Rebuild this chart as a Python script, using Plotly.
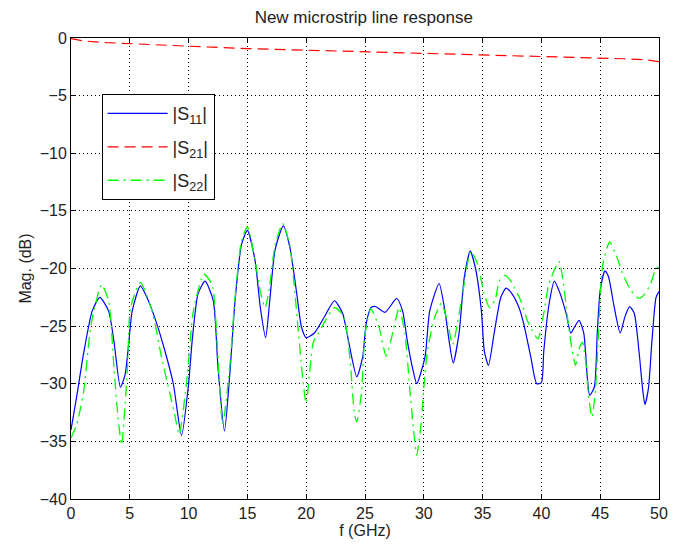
import plotly.graph_objects as go

# |S11| (blue, solid)
f_s11 = [0, 0.5, 1.1, 1.8, 2.45, 3.2, 3.65, 4.2, 4.6, 4.9, 5.2, 5.9, 6.5, 7.2, 8.0, 8.7,
         9.4, 10.0, 10.3, 10.8, 11.4, 12.1, 12.5, 13.05, 13.5, 13.95, 14.5, 15.0, 15.65,
         16.1, 16.55, 16.9, 17.35, 18.05, 18.6, 19.2, 19.6, 20.0, 20.7, 21.6, 22.4, 23.1,
         23.6, 24.3, 24.8, 25.1, 25.5, 25.9, 26.7, 27.7, 28.2, 28.6, 29.1, 29.4, 30.1,
         30.5, 31.3, 31.75, 32.2, 32.5, 33.0, 33.45, 33.95, 34.4, 34.9, 35.15, 35.5, 36.0,
         36.55, 37.0, 37.5, 38.1, 38.5, 39.1, 39.6, 40.0, 40.2, 40.65, 41.1, 41.6, 42.1,
         42.5, 42.8, 43.2, 43.6, 43.9, 44.1, 44.5, 44.75, 45.0, 45.4, 45.7, 46.2, 46.7,
         47.1, 47.5, 47.9, 48.3, 48.6, 48.8, 49.1, 49.4, 49.75, 50.0]
s11 = [-34.0, -31.0, -27.2, -23.7, -22.5, -23.7, -26.3, -30.3, -29.2, -26.6, -23.7, -21.5,
       -22.6, -24.5, -27.2, -30.0, -34.5, -30.0, -26.3, -22.2, -21.1, -22.8, -28.6, -34.1,
       -29.2, -22.8, -17.9, -16.7, -19.3, -23.4, -26.0, -22.8, -18.4, -16.3, -18.1, -22.2,
       -25.1, -26.0, -25.6, -24.1, -22.8, -23.9, -26.3, -29.4, -27.7, -24.8, -23.4, -23.3,
       -23.8, -22.6, -23.7, -26.3, -28.9, -30.0, -27.7, -23.7, -21.3, -23.4, -26.6, -28.2,
       -25.6, -20.7, -18.5, -20.0, -23.7, -27.2, -28.4, -25.5, -22.5, -21.7, -22.2, -23.4,
       -24.8, -27.7, -30.0, -29.9, -27.2, -23.1, -21.1, -22.2, -23.9, -25.6, -25.1, -24.5,
       -25.6, -29.4, -31.0, -30.3, -25.6, -21.9, -20.2, -20.7, -23.4, -25.6, -24.2, -23.3,
       -23.9, -27.2, -30.4, -31.8, -30.4, -26.3, -22.5, -22.0]

# |S21| (red, dashed)
f_s21 = [0, 1, 3, 5, 7.5, 10, 12, 15, 18, 20, 22.5, 25, 28, 30, 32, 35, 37, 39, 42, 45,
         47, 49, 50]
s21 = [-0.05, -0.25, -0.4, -0.5, -0.6, -0.7, -0.8, -0.92, -1.0, -1.05, -1.12, -1.18, -1.25,
       -1.3, -1.35, -1.42, -1.5, -1.57, -1.65, -1.72, -1.8, -1.9, -2.05]

# |S22| (green, dash-dot)
f_s22 = [0, 0.5, 1.1, 1.7, 2.6, 3.2, 3.65, 4.0, 4.3, 4.8, 5.06, 5.9, 6.9, 7.7, 8.8, 9.2,
         9.9, 10.4, 11.3, 12.0, 12.3, 12.9, 13.5, 13.95, 14.5, 15.0, 15.6, 16.1, 16.5, 16.9,
         17.35, 18.0, 18.6, 19.3, 19.7, 20.0, 20.6, 21.0, 22.4, 23.1, 23.5, 23.8, 24.1,
         24.3, 24.7, 25.0, 25.5, 26.2, 26.8, 27.4, 27.9, 28.4, 28.8, 29.1, 29.4, 29.8,
         30.0, 30.3, 30.9, 31.5, 32.0, 32.45, 33.2, 34.0, 34.6, 35.1, 35.6, 36.1, 36.4,
         36.9, 37.4, 38.25, 38.8, 39.7, 40.2, 40.65, 41.5, 41.9, 42.2, 42.6, 42.9, 43.2,
         43.5, 43.8, 44.0, 44.3, 44.6, 44.9, 45.2, 45.8, 46.3, 46.9, 47.6, 48.3, 48.8,
         49.3, 49.7, 50.0]
s22 = [-34.7, -33.5, -30.5, -24.9, -21.4, -22.8, -28.6, -32.9, -35.3, -28.6, -23.4, -21.2,
       -23.7, -27.7, -32.6, -34.4, -29.2, -23.7, -20.5, -21.4, -24.3, -33.5, -28.5, -22.5,
       -17.6, -16.4, -19.0, -22.0, -23.4, -21.5, -18.0, -16.1, -18.0, -25.1, -29.5, -31.7,
       -26.4, -25.7, -23.4, -24.0, -25.7, -28.8, -32.6, -33.3, -30.8, -25.7, -23.5, -25.1,
       -27.6, -25.4, -23.4, -25.7, -30.4, -33.7, -36.2, -33.2, -30.4, -27.2, -24.3, -23.0,
       -24.6, -26.6, -22.8, -18.5, -19.7, -22.1, -23.4, -22.6, -21.1, -20.6, -21.1, -22.8,
       -24.5, -26.1, -23.9, -21.3, -19.4, -21.5, -24.1, -27.0, -28.4, -27.0, -26.4, -28.4,
       -31.0, -32.9, -30.5, -24.7, -19.8, -17.7, -18.7, -20.4, -21.9, -22.6, -22.2, -21.3,
       -20.1, -19.8]

x_ticks = list(range(0, 51, 5))
y_ticks = list(range(-40, 1, 5))

fig = go.Figure()
fig.add_trace(go.Scatter(x=f_s11, y=s11, name='|S<sub>11</sub>|', legendgroup='a',
                         mode='lines', line=dict(color='#0000ff', width=1.2, shape='spline',
                                                 smoothing=0.6)))
fig.add_trace(go.Scatter(x=f_s21, y=s21, name='|S<sub>21</sub>|', legendgroup='b',
                         mode='lines', line=dict(color='#ff0000', width=1.2, dash='11px,6px')))
fig.add_trace(go.Scatter(x=f_s22, y=s22, name='|S<sub>22</sub>|', legendgroup='c',
                         mode='lines', line=dict(color='#00ff00', width=1.3,
                                                 dash='11px,5px,2px,5px',
                                                 shape='spline', smoothing=0.6)))

# automargin off so the plot area stays exactly where the margins put it
axis_style = dict(showline=True, linecolor='black', linewidth=1, mirror='allticks',
                  ticks='inside', ticklen=5, tickcolor='black', showgrid=True,
                  gridcolor='black', griddash='1px,3px', gridwidth=1, zeroline=False,
                  automargin=False, ticklabeloverflow='allow',
                  tickfont=dict(size=16, color='#222222'))

fig.update_xaxes(range=[0, 50], tickvals=x_ticks,
                 title=dict(text='f (GHz)', standoff=2, font=dict(size=16)), **axis_style)
fig.update_yaxes(range=[-40, 0], tickvals=y_ticks,
                 title=dict(text='Mag. (dB)', standoff=4, font=dict(size=16)), **axis_style)

# page body adds an 8px offset, so the figure is sized to fit the window
fig.update_layout(
    width=665, height=533,
    margin=dict(l=63, r=14, t=30, b=42),
    paper_bgcolor='white', plot_bgcolor='white',
    font=dict(family='Liberation Sans, Arial, sans-serif', size=16, color='#222222'),
    title=dict(text='New microstrip line response', x=0.535, xanchor='center',
               y=0.995, yanchor='top', font=dict(size=17)),
    legend=dict(x=0.052, y=0.878, xanchor='left', yanchor='top', bgcolor='white',
                bordercolor='black', borderwidth=1, itemwidth=60, traceorder='grouped',
                tracegroupgap=7, font=dict(size=18)),
)

fig.write_html("out.html")
